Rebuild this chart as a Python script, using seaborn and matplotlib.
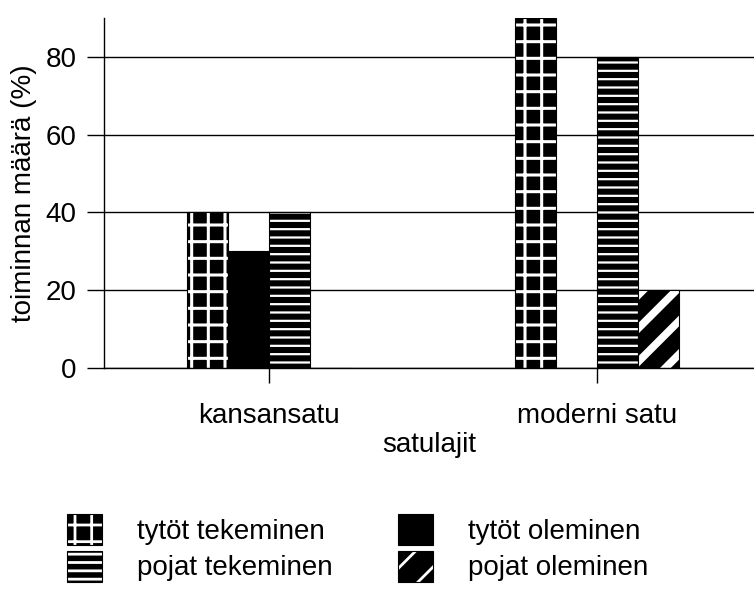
import seaborn as sns
import matplotlib.pyplot as plt
import matplotlib.patches as mpatches
import pandas as pd

categories = ['kansansatu', 'moderni satu']
series = ['tytöt tekeminen', 'tytöt oleminen', 'pojat tekeminen', 'pojat oleminen']
tytot_tekeminen = [40, 90]
tytot_oleminen = [30, 0]
pojat_tekeminen = [40, 80]
pojat_oleminen = [0, 20]
y_ticks = [0, 20, 40, 60, 80]

df = pd.DataFrame({
    'satulaji': categories * 4,
    'ryhmä': [s for s in series for _ in categories],
    'arvo': tytot_tekeminen + tytot_oleminen + pojat_tekeminen + pojat_oleminen,
})

# hatch style per series: (hatch, hatch linewidth)
styles = {
    'tytöt tekeminen': ('+', 2.2),
    'tytöt oleminen': ('', 1.0),
    'pojat tekeminen': ('--', 1.6),
    'pojat oleminen': ('/', 5.5),
}

sns.set_style('white')
plt.rcParams['font.family'] = ['Liberation Sans', 'DejaVu Sans']
plt.rcParams['hatch.linewidth'] = 2.0
for k in ['text.color', 'axes.labelcolor', 'xtick.color', 'ytick.color']:
    plt.rcParams[k] = 'black'

fig = plt.figure(figsize=(7.54, 5.92), dpi=100)
ax = fig.add_axes([0.138, 0.378, 0.862, 0.592])

sns.barplot(data=df, x='satulaji', y='arvo', hue='ryhmä', order=categories,
            hue_order=series, palette=['black'] * 4, width=0.5, ax=ax,
            legend=False, saturation=1)


def style_patch(p, hatch, hlw):
    p.set_facecolor('black')
    p.set_hatch(hatch)
    p.set_edgecolor('black')
    p.set_linewidth(0.8)
    p._hatch_color = (1, 1, 1, 1)
    if hasattr(p, 'set_hatch_linewidth'):
        p.set_hatch_linewidth(hlw)
    elif hasattr(p, '_hatch_linewidth'):
        p._hatch_linewidth = hlw


for cont, name in zip(ax.containers, series):
    hatch, hlw = styles[name]
    for p in cont.patches:
        style_patch(p, hatch, hlw)

ax.set_ylim(0, 90)
ax.set_xlim(-0.503, 1.479)
ax.set_yticks(y_ticks)
ax.yaxis.grid(True, color='black', linewidth=1.0)
ax.set_axisbelow(True)
for s in ['top', 'right']:
    ax.spines[s].set_visible(False)
for s in ['left', 'bottom']:
    ax.spines[s].set_color('black')
    ax.spines[s].set_linewidth(1.0)
ax.tick_params(axis='y', length=12, width=1.0, labelsize=20, pad=8, left=True)
ax.tick_params(axis='x', length=11, width=1.0, labelsize=20, pad=14, bottom=True)
ax.set_xlabel('satulajit', fontsize=20, labelpad=2)
ax.set_ylabel('toiminnan määrä (%)', fontsize=20, labelpad=6)

handles = []
for name in [series[0], series[2], series[1], series[3]]:
    hatch, hlw = styles[name]
    h = mpatches.Patch(label=name)
    style_patch(h, hatch, hlw)
    handles.append(h)

fig.legend(handles=handles, ncol=2, loc='upper left', bbox_to_anchor=(0.089, 0.132),
           frameon=False, fontsize=20, handlelength=1.26, handleheight=1.33,
           handletextpad=1.26, columnspacing=2.34, labelspacing=0.22,
           borderpad=0, borderaxespad=0)

fig.savefig('out.png', dpi=100)
